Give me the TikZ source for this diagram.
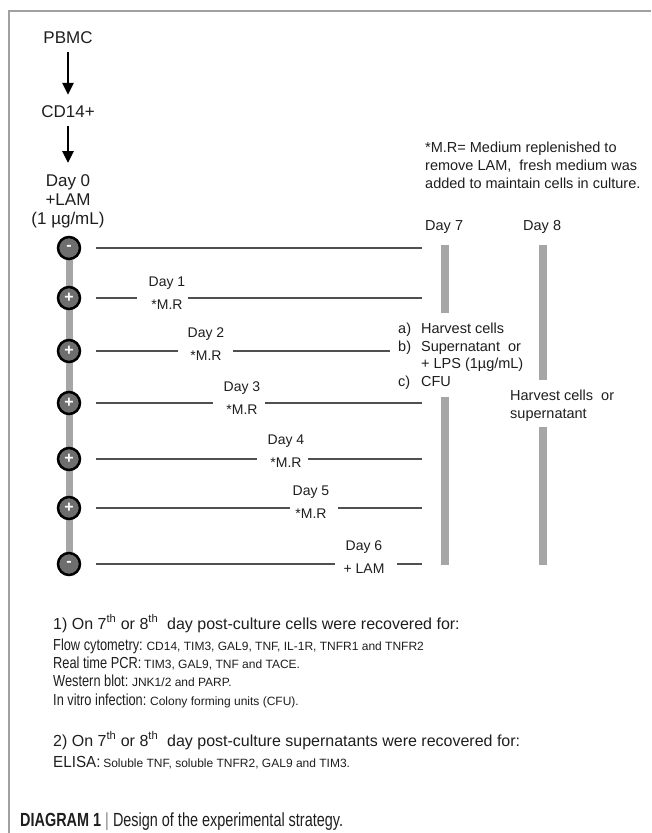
\documentclass[tikz,border=0pt]{standalone}
\usepackage{fontspec}
\setmainfont{Liberation Sans}
\newfontfamily\narrowf[FakeStretch=0.8]{Liberation Sans}
\newfontfamily\elisaf[FakeStretch=0.95]{Liberation Sans}
\newfontfamily\capf[FakeStretch=0.76]{Liberation Sans}
\usetikzlibrary{arrows.meta,backgrounds}
\definecolor{bargray}{HTML}{A6A6A6}
\definecolor{linegray}{HTML}{505050}
\definecolor{circfill}{HTML}{6E6E6E}
\definecolor{framegray}{HTML}{A0A0A0}
\definecolor{txt}{HTML}{1E1E1E}
\tikzset{
  toplabel/.style={font=\fontsize{17pt}{19pt}\selectfont, align=center, text=txt, inner sep=0pt},
  flowarrow/.style={-{Triangle[length=12pt,width=11pt]}, line width=2.8pt, draw=black, shorten <=8pt, shorten >=11pt},
  daycirc/.style={circle, draw=black, line width=2.5pt, fill=circfill, minimum size=22pt, inner sep=0pt, text=white, font=\fontsize{16pt}{16pt}\selectfont\bfseries},
  rowline/.style={draw=linegray, line width=1.3pt},
  gapnode/.style={inner sep=0pt, outer sep=0pt, minimum height=1pt, minimum width=#1},
  rowlabel/.style={font=\fontsize{14pt}{23pt}\selectfont, align=center, text=txt, inner sep=0pt},
  sidetext/.style={font=\fontsize{14.5pt}{18pt}\selectfont, align=left, text=txt, inner sep=0pt, anchor=west},
  vbar/.style={draw=bargray, line width=8pt},
  spine/.style={draw=bargray, line width=7pt},
  bottomline/.style={anchor=base west, inner sep=0pt, text=txt},
  bigf/.style={font=\fontsize{16pt}{18pt}\selectfont},
}
\newcommand{\mylab}[1]{{\narrowf\fontsize{16pt}{18pt}\selectfont #1}}
\newcommand{\mydet}[1]{{\fontsize{12pt}{14pt}\selectfont #1}}
\begin{document}
\begin{tikzpicture}[x=1pt,y=-1pt]
\useasboundingbox (0,0) rectangle (651,833);
% frame
\draw[framegray, line width=1.5pt] (651,11) -- (9,11) -- (9,833);

% top flow
\node[toplabel] (pbmc) at (68,38) {PBMC};
\node[toplabel] (cd14) at (68,112) {CD14+};
\node[toplabel, anchor=north] (day0) at (68,174) {Day 0\\+LAM\\(1 µg/mL)};
\draw[flowarrow] (pbmc) -- (cd14);
\draw[flowarrow] (cd14) -- (day0);

% circles
\node[daycirc] (c0) at (69,248) {-};
\node[daycirc] (c1) at (69,298) {+};
\node[daycirc] (c2) at (69,351) {+};
\node[daycirc] (c3) at (69,403) {+};
\node[daycirc] (c4) at (69,459) {+};
\node[daycirc] (c5) at (69,508) {+};
\node[daycirc] (c6) at (69,564) {-};
\begin{scope}[on background layer]
  \draw[spine] (c0) -- (c6);
\end{scope}

% line end points
\coordinate (e0) at (422,248);
\coordinate (e1) at (422,298);
\coordinate (e2) at (390,351);
\coordinate (e3) at (422,403);
\coordinate (e4) at (422,459);
\coordinate (e5) at (422,508);
\coordinate (e6) at (422,564);

% gaps
\node[gapnode=51pt] (g1) at (162.5,298) {};
\node[gapnode=55pt] (g2) at (205.5,351) {};
\node[gapnode=52pt] (g3) at (239,403) {};
\node[gapnode=51pt] (g4) at (282.5,459) {};
\node[gapnode=48pt] (g5) at (314,508) {};
\node[gapnode=62pt] (g6) at (366,564) {};

% row labels
\node[rowlabel] (l1) at (167,293) {Day 1\\*M.R};
\node[rowlabel] (l2) at (206,344) {Day 2\\*M.R};
\node[rowlabel] (l3) at (242,398) {Day 3\\*M.R};
\node[rowlabel] (l4) at (286,451) {Day 4\\*M.R};
\node[rowlabel] (l5) at (311,502) {Day 5\\*M.R};
\node[rowlabel] (l6) at (364,557) {Day 6\\+ LAM};

% row lines
\draw[rowline, shorten <=15pt] (c0) -- (e0);
\foreach \i in {1,...,6}{
  \draw[rowline, shorten <=15pt] (c\i) -- (g\i);
  \draw[rowline] (g\i) -- (e\i);
}

% note
\node[sidetext, anchor=north west] (note) at (425,141.5) {*M.R= Medium replenished to\\remove LAM,\ \ fresh medium was\\added to maintain cells in culture.};

% day 7
\node[sidetext] (d7) at (425,227) {Day 7};
\coordinate (b7a) at (445,245);
\coordinate (b7b) at (445,313);
\coordinate (b7c) at (445,397);
\coordinate (b7d) at (445,565);
\draw[vbar] (b7a) -- (b7b);
\draw[vbar] (b7c) -- (b7d);
\node[anchor=north west, inner sep=0pt, text=txt, font=\fontsize{14.5pt}{17.7pt}\selectfont] (abc) at (398,320.8)
  {\begin{tabular}{@{}l@{\hspace{10pt}}l@{}}a) & Harvest cells\\ b) & Supernatant\ \ or\\ & + LPS (1µg/mL)\\ c) & CFU\end{tabular}};

% day 8
\node[sidetext] (d8) at (523,227) {Day 8};
\coordinate (b8a) at (543,245);
\coordinate (b8b) at (543,380);
\coordinate (b8c) at (543,427);
\coordinate (b8d) at (543,565);
\draw[vbar] (b8a) -- (b8b);
\draw[vbar] (b8c) -- (b8d);
\node[sidetext, anchor=north west] (h8) at (510,389.8) {Harvest cells\ \ or\\supernatant};

% bottom text
\node[bottomline, bigf] (t1) at (53,629) {1) On 7\textsuperscript{th} or 8\textsuperscript{th}\ \ day post-culture cells were recovered for:};
\node[bottomline] (t2) at (53,650) {\mylab{Flow cytometry:} \mydet{CD14, TIM3,\ GAL9, TNF, IL-1R,\ TNFR1\ and TNFR2}};
\node[bottomline] (t3) at (53,668) {\mylab{Real time PCR:} \mydet{TIM3,\ GAL9, TNF and TACE.}};
\node[bottomline] (t4) at (53,686) {\mylab{Western blot:} \mydet{JNK1/2 and PARP.}};
\node[bottomline] (t5) at (53,705) {\mylab{In vitro infection:} \mydet{Colony forming units (CFU).}};
\node[bottomline, bigf] (t6) at (53,746) {2) On 7\textsuperscript{th} or 8\textsuperscript{th}\ \ day post-culture supernatants were recovered for:};
\node[bottomline] (t7) at (53,767) {{\elisaf\fontsize{16pt}{18pt}\selectfont ELISA:} \mydet{Soluble TNF, soluble TNFR2, GAL9\ and TIM3.}};

% caption
\node[bottomline, font=\capf\fontsize{19pt}{21pt}\selectfont] (cap) at (20,826) {\textbf{DIAGRAM 1} {\color{gray}|} Design of the experimental strategy.};
\end{tikzpicture}
\end{document}
